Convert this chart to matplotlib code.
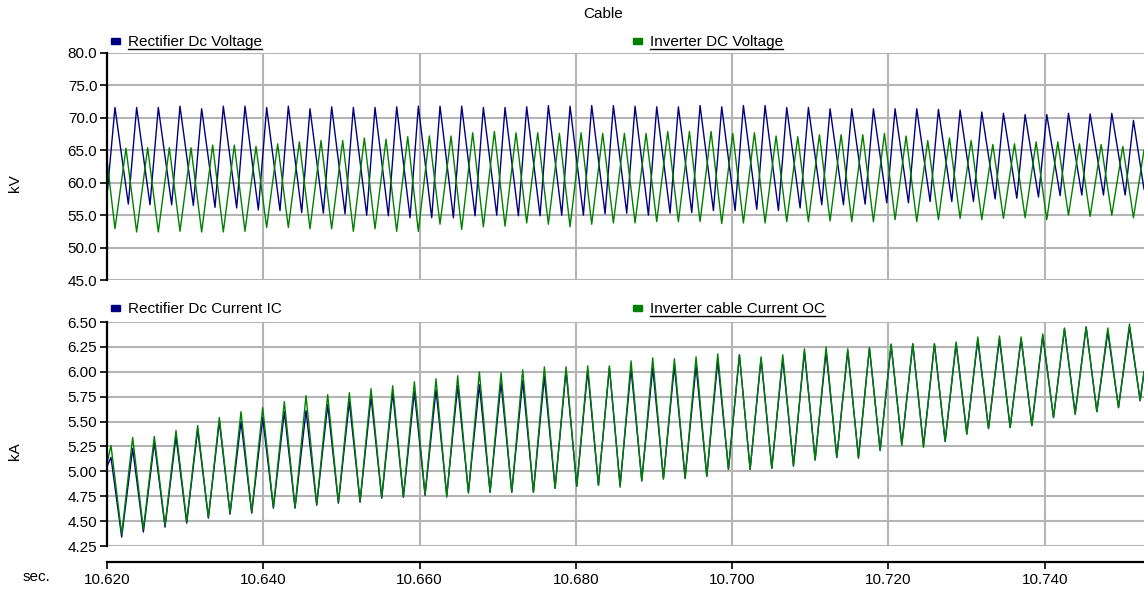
import numpy as np
import matplotlib
matplotlib.use('Agg')
import matplotlib.pyplot as plt
from matplotlib.lines import Line2D

plt.rcParams['font.family'] = ['Liberation Sans', 'DejaVu Sans']

# --- data -----------------------------------------------------------------
T_START, T_END = 10.620, 10.7527
PERIOD = 0.002773          # ripple period (about 360 Hz)

# top panel, kV
rect_v_peak_t0, rect_v_trough_t0 = 10.62102, 10.62273
rect_v_peaks = [71.6, 71.6, 71.6, 71.8, 71.4, 71.8, 71.8, 71.6, 71.8, 71.4, 71.7, 71.6, 71.6, 71.7, 71.8, 71.8,
                71.8, 71.6, 71.6, 71.7, 71.9, 71.8, 71.9, 71.9, 71.8, 71.7, 71.7, 71.9, 71.7, 71.9, 71.9, 71.6,
                71.6, 71.4, 71.4, 71.4, 71.4, 71.4, 71.3, 71.2, 70.9, 70.7, 70.5, 70.5, 70.7, 70.6, 70.7, 69.6]
rect_v_troughs = [56.7, 56.6, 56.6, 56.5, 56.2, 56.1, 55.8, 55.7, 55.4, 55.3, 55.2, 55.0, 54.9, 54.6, 54.6,
                  54.6, 54.9, 55.0, 54.9, 54.9, 55.0, 55.0, 55.2, 55.3, 55.0, 55.3, 55.4, 55.7, 55.7, 55.9, 55.7,
                  56.1, 56.6, 56.6, 56.7, 56.9, 56.9, 57.1, 57.1, 57.1, 57.5, 57.6, 57.8, 58.0, 58.1, 58.1, 58.1]
rect_v_ends = (58.0, 59.0)

inv_v_peak_t0, inv_v_trough_t0 = 10.62243, 10.62102
inv_v_peaks = [65.3, 65.4, 65.4, 65.4, 65.8, 65.8, 65.6, 66.0, 66.3, 66.5, 66.5, 66.9, 66.7, 67.1, 67.2,
               67.2, 67.7, 67.9, 67.7, 67.7, 67.6, 67.7, 67.6, 67.6, 67.6, 67.9, 67.9, 67.9, 67.6, 67.7, 67.2,
               67.1, 67.4, 67.4, 67.4, 67.6, 67.2, 66.5, 66.9, 66.5, 65.9, 66.0, 66.3, 66.3, 66.0, 65.9, 65.6]
inv_v_troughs = [52.9, 52.4, 52.4, 52.5, 52.4, 52.4, 52.5, 53.1, 53.1, 52.9, 52.9, 52.5, 52.9, 52.5, 52.5, 53.6,
                 52.8, 53.2, 53.3, 53.8, 53.6, 53.2, 53.6, 53.8, 53.8, 54.0, 54.0, 54.0, 53.7, 53.8, 53.8, 54.0,
                 54.0, 54.1, 54.0, 54.0, 54.3, 54.0, 54.3, 54.5, 54.3, 54.5, 54.6, 54.3, 55.0, 54.8, 55.0, 54.6]
inv_v_ends = (63.5, 65.0)

# bottom panel, kA
cur_peak_t0, cur_trough_t0 = 10.62051, 10.62188
rect_i_peaks = [5.14, 5.23, 5.29, 5.35, 5.42, 5.50, 5.50, 5.54, 5.60, 5.61, 5.67, 5.70, 5.75, 5.79, 5.80, 5.82,
                5.86, 5.87, 5.89, 5.91, 5.95, 6.01, 6.01, 6.04, 6.03, 6.04, 6.06, 6.06, 6.11, 6.17, 6.13, 6.13,
                6.20, 6.20, 6.21, 6.24, 6.27, 6.28, 6.28, 6.28, 6.32, 6.33, 6.33, 6.36, 6.43, 6.45, 6.40, 6.45]
rect_i_troughs = [4.34, 4.39, 4.44, 4.48, 4.53, 4.57, 4.58, 4.63, 4.63, 4.66, 4.68, 4.69, 4.73, 4.74, 4.76, 4.76,
                  4.79, 4.79, 4.79, 4.79, 4.83, 4.85, 4.86, 4.86, 4.91, 4.93, 4.93, 4.95, 5.02, 5.02, 5.03,
                  5.06, 5.12, 5.14, 5.14, 5.21, 5.27, 5.26, 5.30, 5.38, 5.43, 5.44, 5.46, 5.54, 5.58, 5.60, 5.64, 5.71]
rect_i_ends = (5.05, 6.00)

inv_i_peaks = [5.26, 5.34, 5.35, 5.41, 5.46, 5.54, 5.60, 5.64, 5.70, 5.76, 5.77, 5.79, 5.83, 5.86, 5.90, 5.93,
               5.96, 6.00, 5.99, 6.02, 6.05, 6.05, 6.06, 6.06, 6.11, 6.14, 6.13, 6.15, 6.18, 6.17, 6.15, 6.17,
               6.23, 6.25, 6.23, 6.24, 6.28, 6.28, 6.28, 6.30, 6.35, 6.36, 6.35, 6.38, 6.44, 6.45, 6.44, 6.48]
inv_i_troughs = [4.37, 4.42, 4.46, 4.50, 4.54, 4.58, 4.59, 4.64, 4.64, 4.67, 4.69, 4.70, 4.74, 4.75, 4.77, 4.74,
                 4.78, 4.79, 4.79, 4.79, 4.83, 4.85, 4.86, 4.84, 4.90, 4.92, 4.93, 4.95, 5.02, 5.02, 5.03,
                 5.05, 5.11, 5.14, 5.13, 5.21, 5.26, 5.24, 5.30, 5.37, 5.43, 5.44, 5.46, 5.54, 5.57, 5.60, 5.64, 5.71]
inv_i_ends = (5.08, 6.00)

x_ticks = [10.620, 10.640, 10.660, 10.680, 10.700, 10.720, 10.740]
kv_ticks = [45.0, 50.0, 55.0, 60.0, 65.0, 70.0, 75.0, 80.0]
ka_ticks = [4.25, 4.50, 4.75, 5.00, 5.25, 5.50, 5.75, 6.00, 6.25, 6.50]

BLUE = '#000080'
GREEN = '#008000'
GRID = '#b4b4b4'
W, H = 1144, 590


def trace(peak_t0, peaks, trough_t0, troughs, ends):
    t = np.concatenate([[T_START],
                        peak_t0 + PERIOD * np.arange(len(peaks)),
                        trough_t0 + PERIOD * np.arange(len(troughs)),
                        [T_END]])
    v = np.concatenate([[ends[0]], peaks, troughs, [ends[1]]])
    order = np.argsort(t)
    return t[order], v[order]


def style_axes(ax, yticks, fmt):
    ax.set_xlim(T_START, T_END)
    ax.set_ylim(yticks[0], yticks[-1])
    ax.set_xticks(x_ticks)
    ax.set_yticks(yticks)
    ax.set_yticklabels([fmt % v for v in yticks])
    ax.grid(True, color=GRID, lw=1.5)
    ax.set_axisbelow(True)
    for s in ('top', 'right'):
        ax.spines[s].set_visible(False)
    ax.spines['left'].set_linewidth(1.6)
    ax.tick_params(axis='y', length=5, width=1.2, pad=2, labelsize=11)


def px(x, y):
    return x / W, 1 - y / H


fig = plt.figure(figsize=(W / 100, H / 100), dpi=100)
ax1 = fig.add_axes([107 / W, 1 - 280 / H, 1 - 107 / W, (280 - 53) / H])
ax2 = fig.add_axes([107 / W, 1 - 546 / H, 1 - 107 / W, (546 - 322) / H])

ax1.plot(*trace(rect_v_peak_t0, rect_v_peaks, rect_v_trough_t0, rect_v_troughs, rect_v_ends), color=BLUE, lw=1.0)
ax1.plot(*trace(inv_v_peak_t0, inv_v_peaks, inv_v_trough_t0, inv_v_troughs, inv_v_ends), color=GREEN, lw=1.0)
style_axes(ax1, kv_ticks, '%.1f')
ax1.spines['bottom'].set_visible(False)
ax1.tick_params(axis='x', length=0, labelbottom=False)

ax2.plot(*trace(cur_peak_t0, rect_i_peaks, cur_trough_t0, rect_i_troughs, rect_i_ends), color=BLUE, lw=1.0)
ax2.plot(*trace(cur_peak_t0, inv_i_peaks, cur_trough_t0, inv_i_troughs, inv_i_ends), color=GREEN, lw=1.0)
style_axes(ax2, ka_ticks, '%.2f')
ax2.set_xticklabels(['%.3f' % v for v in x_ticks])
ax2.spines['bottom'].set_position(('outward', 11.5))
ax2.spines['bottom'].set_linewidth(1.6)
ax2.tick_params(axis='x', length=5, width=1.2, pad=3, labelsize=11)

fig.text(*px(603, 14), 'Cable', ha='center', va='center', fontsize=11)
fig.text(*px(15, 183), 'kV', ha='center', va='center', rotation=90, fontsize=11)
fig.text(*px(15, 451), 'kA', ha='center', va='center', rotation=90, fontsize=11)
fig.text(*px(36, 577), 'sec.', ha='center', va='center', fontsize=11)

legend_items = [(111, 41, 'Rectifier Dc Voltage', BLUE, True),
                (633, 41, 'Inverter DC Voltage', GREEN, True),
                (111, 308, 'Rectifier Dc Current IC', BLUE, False),
                (633, 308, 'Inverter cable Current OC', GREEN, True)]
labels = []
for x, y, text, color, underline in legend_items:
    fig.patches.append(plt.Rectangle(px(x, y + 3), 9 / W, 6 / H, transform=fig.transFigure,
                                     color=color, figure=fig))
    t = fig.text(*px(x + 17, y + 5), text, ha='left', va='baseline', fontsize=11)
    labels.append((t, underline))

fig.canvas.draw()
inv = fig.transFigure.inverted()
for t, underline in labels:
    if not underline:
        continue
    bb = t.get_window_extent().transformed(inv)
    yb = t.get_position()[1] - 3 / H
    fig.add_artist(Line2D([bb.x0, bb.x1], [yb, yb], transform=fig.transFigure, color='black', lw=1.0))

fig.savefig('out.png', dpi=100)
